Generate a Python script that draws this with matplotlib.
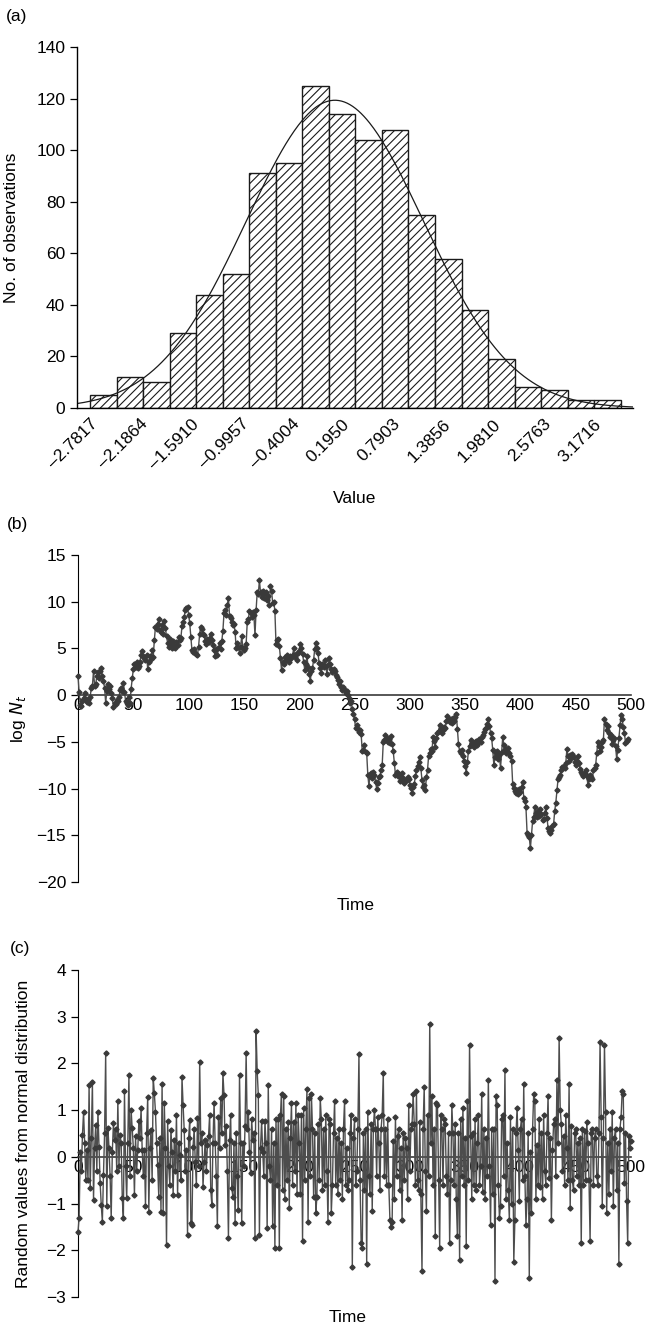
import numpy as np
import matplotlib
matplotlib.use("Agg")
import matplotlib.pyplot as plt

plt.rcParams['font.family'] = ['Liberation Sans', 'DejaVu Sans']
plt.rcParams['font.size'] = 12.5
plt.rcParams['hatch.linewidth'] = 0.8

# histogram (a)
counts = [5, 12, 10, 29, 44, 52, 91, 95, 125, 114, 104, 108, 75, 58, 38, 19, 8, 7, 3, 3]
tick_vals = [-2.7817, -2.1864, -1.5910, -0.9957, -0.4004, 0.1950, 0.7903,
             1.3856, 1.9810, 2.5763, 3.1716]
bin_start = -2.7817
bin_width = 0.31361
fit_mean = 0.112
fit_sd = 1.048

# log N_t, random walk (b)
log_n = [
    2.0, 0.3, -1.0, -1.2, -0.6, -0.3, 0.2, -0.4, -0.7, -0.5,
    -0.8, -0.2, 0.8, 1.0, 2.6, 1.0, 1.2, 2.0, 2.5, 1.8,
    2.6, 2.9, 2.0, 1.5, 0.8, -0.8, 0.4, 1.2, 0.7, 1.0,
    0.2, -0.3, -1.3, -0.8, -0.9, -0.5, -0.6, -0.2, 0.5, 0.8,
    0.4, 1.3, 0.3, -0.6, -0.8, -1.0, -0.2, -0.8, 0.7, 1.8,
    2.8, 3.3, 3.0, 3.5, 2.9, 3.1, 3.6, 4.3, 4.7, 4.2,
    4.0, 3.8, 4.3, 2.8, 3.6, 4.2, 3.9, 4.8, 4.1, 5.9,
    7.3, 7.1, 7.6, 8.1, 7.0, 6.8, 7.5, 6.6, 7.9, 7.2,
    6.3, 5.6, 5.2, 6.0, 5.5, 5.0, 5.8, 5.3, 5.1, 5.7,
    5.4, 6.2, 5.9, 6.1, 7.4, 7.8, 8.4, 9.1, 9.3, 9.4,
    8.6, 7.7, 6.2, 4.8, 4.6, 4.9, 4.5, 4.4, 4.3, 5.2,
    6.6, 7.3, 7.1, 6.6, 6.4, 5.8, 5.5, 6.0, 5.7, 6.1,
    6.5, 5.9, 5.4, 4.8, 4.2, 4.9, 4.3, 5.0, 5.6, 4.9,
    5.8, 6.9, 8.8, 9.1, 8.6, 9.7, 10.4, 8.5, 8.3, 7.8,
    7.5, 7.6, 6.8, 5.0, 5.6, 5.2, 4.5, 5.2, 6.3, 5.1,
    4.8, 5.0, 5.5, 7.8, 8.1, 9.0, 8.8, 8.4, 8.9, 8.6,
    6.4, 9.1, 11.0, 10.8, 12.3, 11.0, 10.5, 11.2, 10.4, 10.9,
    11.0, 10.2, 10.6, 9.6, 11.7, 11.1, 9.9, 10.0, 9.0, 5.5,
    5.9, 6.0, 5.3, 4.0, 2.7, 3.6, 3.3, 4.1, 3.8, 4.3,
    3.9, 3.6, 4.2, 4.0, 4.3, 5.0, 4.1, 4.4, 3.8, 4.5,
    4.7, 5.5, 5.0, 4.4, 3.6, 2.7, 3.3, 4.2, 3.0, 2.3,
    1.5, 2.6, 2.9, 3.8, 4.9, 5.6, 5.0, 4.5, 3.4, 2.9,
    2.4, 3.3, 3.0, 3.8, 3.1, 2.3, 3.2, 4.0, 3.3, 2.8,
    2.5, 2.8, 2.6, 2.2, 1.9, 1.6, 1.2, 1.5, 0.9, 0.6,
    0.9, 0.5, 0.2, 0.4, 0.0, -0.3, -0.8, -0.6, -1.5, -2.0,
    -2.6, -3.5, -3.2, -3.6, -3.9, -3.7, -4.2, -6.0, -5.9, -5.3,
    -6.1, -6.2, -8.5, -9.7, -8.6, -8.3, -8.9, -8.2, -8.5, -9.3,
    -10.0, -9.4, -8.8, -8.6, -8.0, -7.5, -5.0, -4.8, -4.3, -4.6,
    -5.0, -4.7, -5.1, -4.4, -5.2, -6.0, -7.3, -8.5, -8.2, -8.7,
    -8.4, -9.2, -8.9, -8.3, -8.9, -9.4, -9.2, -9.1, -8.8, -9.0,
    -9.6, -9.9, -10.5, -9.8, -9.5, -8.7, -8.0, -7.6, -7.2, -6.6,
    -7.8, -9.1, -9.8, -9.6, -10.2, -8.8, -8.0, -6.5, -6.2, -5.8,
    -6.0, -4.5, -4.9, -5.5, -4.6, -4.1, -3.8, -3.2, -3.6, -4.1,
    -3.7, -3.4, -3.5, -2.8, -2.2, -2.5, -2.9, -2.6, -3.0, -2.4,
    -2.8, -2.3, -2.0, -3.6, -5.2, -6.0, -6.2, -5.9, -6.5, -7.0,
    -7.6, -8.3, -7.2, -6.0, -5.4, -4.8, -5.1, -5.2, -5.5, -5.0,
    -4.9, -5.3, -5.0, -4.7, -5.0, -4.5, -4.3, -3.9, -3.6, -3.5,
    -3.1, -2.5, -3.3, -4.0, -4.6, -5.9, -7.5, -6.6, -6.2, -6.0,
    -6.8, -6.4, -7.8, -6.1, -4.5, -5.3, -5.8, -6.2, -6.0, -5.7,
    -6.2, -6.5, -7.0, -9.5, -9.9, -10.3, -10.5, -10.1, -10.6, -10.0,
    -10.4, -9.8, -9.3, -11.0, -11.3, -12.0, -14.7, -15.0, -15.2, -16.4,
    -15.0, -13.5, -13.0, -12.0, -12.6, -13.0, -12.4, -12.9, -12.2, -12.7,
    -13.4, -13.2, -12.6, -12.0, -13.1, -14.2, -14.5, -14.8, -14.4, -14.0,
    -13.8, -12.4, -11.5, -10.2, -9.0, -8.8, -8.5, -8.0, -7.7, -7.6,
    -7.8, -7.3, -5.8, -6.5, -7.0, -6.4, -6.7, -6.3, -6.6, -7.1,
    -7.5, -7.0, -6.5, -7.3, -7.9, -8.2, -8.4, -8.7, -8.3, -8.0,
    -8.6, -9.6, -9.0, -8.5, -8.8, -9.0, -8.0, -7.8, -7.5, -6.2,
    -5.0, -5.4, -6.0, -5.5, -5.0, -4.8, -2.6, -3.1, -3.7, -3.3,
    -4.0, -4.5, -4.3, -5.2, -4.8, -4.6, -5.4, -6.8, -5.9, -4.6,
    -3.2, -2.1, -2.6, -3.4, -4.0, -5.1, -4.9, -4.7,
]

# draws from the normal distribution (c)
noise = [
    -1.6, -1.3, 0.11, -0.3, 0.47, 0.95, 0.3, -0.49, 0.15, -0.5,
    1.54, -0.67, 0.4, 1.6, -0.92, 0.2, 0.69, -0.3, 0.97, 0.22,
    -0.56, -1.03, -1.39, -0.39, 0.5, 2.22, -1.06, 0.61, 0.2, -0.42,
    -1.31, 0.1, 0.72, 0.36, 0.6, -0.31, 1.19, -0.2, 0.47, 0.3,
    -0.89, -1.31, 1.4, -0.2, -0.89, 0.3, 1.76, -0.4, 1.0, 0.61,
    0.2, -0.81, 0.44, -0.3, 0.15, 0.76, 0.4, 1.04, 0.15, -0.4,
    0.15, -1.06, 0.5, 1.29, -1.17, 0.2, 0.58, -0.5, 1.69, 1.36,
    0.97, 0.3, -0.17, -0.85, 0.4, -1.17, 1.56, -1.21, 1.15, 0.2,
    -1.89, 0.76, -0.2, -0.6, 0.58, 0.1, -0.81, 0.36, -0.3, 0.9,
    -0.81, 0.3, 0.04, -0.5, 1.7, 1.11, 0.58, -0.3, 0.15, -1.67,
    0.4, 0.79, -1.42, -1.46, 0.22, 0.6, -0.1, -0.6, 0.83, -0.2,
    2.04, 0.29, 0.5, -0.64, -0.1, 0.36, -0.3, 0.26, 0.44, 0.9,
    -0.71, -1.03, 0.3, 1.16, 0.29, -0.4, -1.49, 0.86, 0.2, 1.26,
    0.5, 1.79, 1.33, 0.26, 0.65, -0.3, -1.74, 0.36, 0.9, -0.67,
    -0.85, 0.3, -1.42, 0.51, -0.4, -1.14, 1.76, 0.3, -1.42, 0.29,
    -0.2, 0.65, 2.22, 0.6, 0.97, 0.1, -0.35, 0.8, 0.36, 0.5,
    -1.74, 2.7, 1.83, 1.33, -1.67, 0.2, 0.76, 0.1, -0.4, 0.76,
    0.3, -1.53, 1.54, -0.2, -0.49, 0.6, -1.49, 0.3, -1.96, 0.8,
    -0.6, 0.8, -1.95, 0.9, 1.35, -0.7, 1.3, -0.9, 0.6, -0.5,
    0.75, -1.1, 0.4, 1.15, -0.6, 0.75, -0.3, 1.15, -0.8, 0.9,
    0.3, -0.8, 0.9, -1.8, 1.05, -0.5, 0.6, 1.45, -1.4, 1.25,
    -0.4, 1.35, 0.6, -0.85, 0.5, -1.2, -0.85, 0.7, -0.5, 1.25,
    0.8, -0.7, 0.6, -0.6, 0.9, -0.3, -1.4, 0.8, 0.7, -1.2,
    -0.6, 0.5, 1.2, -0.6, 0.4, -0.8, 0.6, -0.5, 0.3, -0.9,
    0.6, 1.2, -0.6, 0.2, -0.7, -0.5, 0.5, 0.9, -2.35, 0.4,
    0.8, -0.6, -0.3, 0.6, 2.2, -0.5, -1.85, -1.95, 0.5, -0.7,
    0.6, -2.3, 0.95, -0.4, -0.8, 0.7, -1.15, 0.6, 1.0, 0.6,
    -0.4, 0.85, 0.3, -0.7, 0.6, 0.9, 1.8, -0.4, 0.6, -0.6,
    0.8, -0.6, -1.35, -1.5, -1.4, 0.35, -0.9, 0.85, -0.4, 0.45,
    0.6, -0.7, 0.2, -1.35, 0.5, -0.5, 0.4, 0.2, -0.9, 1.1,
    -0.3, 0.6, 0.7, 1.35, 0.7, -0.6, 1.4, -0.5, -0.7, 0.75,
    -0.8, -2.45, 0.6, 1.5, -0.3, -1.15, 0.9, -0.4, 2.85, 0.3,
    1.3, -0.6, 0.6, -1.7, 1.15, 1.1, -0.5, -1.95, 0.9, 0.6,
    -0.6, 0.8, 0.7, -0.4, -0.8, 0.5, -1.85, -0.5, 1.1, 0.5,
    -0.6, 0.7, -0.9, -1.7, 0.5, -2.2, 0.8, -0.4, 1.05, -0.6,
    0.4, -1.9, 1.2, -0.5, 2.4, 0.45, -0.9, 0.5, -0.6, 0.8,
    -0.7, 0.3, 0.9, -0.6, -0.2, 1.35, -0.75, 0.6, -0.9, 0.4,
    -0.4, 1.65, -0.2, -1.45, 0.6, -0.8, 0.6, -2.65, 1.3, 1.1,
    -0.6, -1.3, -1.05, 0.8, 0.9, -0.4, 1.85, -0.9, 0.3, -0.7,
    -1.35, 0.85, -1.0, 0.6, -2.25, -1.35, 0.5, 1.05, 0.15, -0.95,
    0.6, 0.8, -0.5, 1.55, -0.4, -1.45, -0.9, 0.5, -2.6, 0.1,
    -1.2, 0.6, 1.35, 1.2, -0.9, 0.25, -0.6, 0.8, -0.65, 0.5,
    -0.9, 0.9, -0.3, -0.6, 0.5, 1.3, -0.45, 0.4, -1.35, 0.15,
    0.7, 0.8, -0.4, 1.65, 0.3, 2.55, 1.0, 0.7, -0.3, 0.45,
    -0.6, 0.9, 0.2, -0.5, 1.55, -1.1, 0.65, -0.5, -0.7, 0.5,
    0.6, -0.4, 0.3, -0.6, 0.4, -1.85, 0.6, -0.6, 0.55, -0.5,
    0.75, 0.3, -0.5, -1.8, 0.5, 0.6, -0.6, 0.4, 0.6, -0.4,
    -0.6, 0.5, 2.45, 0.85, -1.05, 0.4, 2.4, 0.95, -1.2, 0.3,
    -0.8, 0.6, -0.3, 0.95, -1.05, 0.4, 0.6, -0.7, 0.3, -2.3,
    0.6, 0.85, 1.4, 1.35, -0.55, 0.5, -0.95, -1.85, 0.45, 0.2,
    0.35,
]

fig = plt.figure(figsize=(6.47, 13.30), dpi=100)

# ---- (a) histogram with fitted normal curve
ax1 = fig.add_axes([0.119, 0.6932, 0.859, 0.2714])
edges = bin_start + bin_width * np.arange(len(counts) + 1)
ax1.bar(edges[:-1], counts, width=bin_width, align='edge', color='white',
        edgecolor='#1a1a1a', linewidth=1.0, hatch='////')
xmin, xmax = -2.9353, 3.6321
xs = np.linspace(xmin, xmax, 400)
pdf = np.exp(-0.5 * ((xs - fit_mean) / fit_sd) ** 2) / (fit_sd * np.sqrt(2 * np.pi))
ax1.plot(xs, sum(counts) * bin_width * pdf, color='#1a1a1a', lw=0.9)
ax1.set_xlim(xmin, xmax)
ax1.set_ylim(0, 140)
ax1.set_yticks(range(0, 141, 20))
ax1.set_xticks(tick_vals)
ax1.set_xticklabels(['%.4f' % v if v >= 0 else '\u2013%.4f' % -v for v in tick_vals],
                    rotation=45, ha='right', rotation_mode='anchor')
ax1.tick_params(axis='x', length=0, pad=6)
ax1.tick_params(axis='y', direction='out', length=5, width=0.9)
ax1.set_ylabel('No. of observations')
ax1.yaxis.set_label_coords(-0.105, 0.5)
ax1.set_xlabel('Value', labelpad=14)
for s in ['top', 'right']:
    ax1.spines[s].set_visible(False)
for s in ['left', 'bottom']:
    ax1.spines[s].set_linewidth(1.0)


# ---- (b) and (c) time series
def series_axes(rect, v, ylim, yticks, ylabel):
    ax = fig.add_axes(rect)
    ax.plot(np.arange(len(v)), v, color='#4d4d4d', lw=1.0, marker='D', ms=2.6,
            mfc='#3a3a3a', mec='#3a3a3a', clip_on=False, zorder=3)
    ax.set_xlim(0, 500)
    ax.set_ylim(*ylim)
    ax.set_yticks(yticks)
    ax.set_xticks(range(0, 501, 50))
    ax.spines['bottom'].set_position(('data', 0))
    ax.spines['bottom'].set_color('#3a3a3a')
    ax.spines['bottom'].set_linewidth(1.2)
    for s in ['top', 'right']:
        ax.spines[s].set_visible(False)
    ax.tick_params(axis='x', length=0, pad=2)
    ax.tick_params(axis='y', direction='out', length=5, width=0.9)
    ax.set_ylabel(ylabel)
    return ax


ax2 = series_axes([0.1206, 0.3368, 0.8547, 0.2459], log_n, (-20, 15),
                  range(-20, 16, 5), r'log $\mathit{N_t}$')
ax2.yaxis.set_label_coords(-0.09, 0.5)
fig.text(0.549, 1 - 905 / 1330, 'Time', ha='center', va='center')

ax3 = series_axes([0.1206, 0.0248, 0.8547, 0.2459], noise, (-3, 4),
                  range(-3, 5), 'Random values from normal distribution')
ax3.yaxis.set_label_coords(-0.085, 0.5)
fig.text(0.538, 1 - 1318 / 1330, 'Time', ha='center', va='center')

fig.text(0.009, 1 - 17 / 1330, '(a)', va='center')
fig.text(0.011, 1 - 525 / 1330, '(b)', va='center')
fig.text(0.015, 1 - 948 / 1330, '(c)', va='center')

fig.savefig('out.png', dpi=100)
